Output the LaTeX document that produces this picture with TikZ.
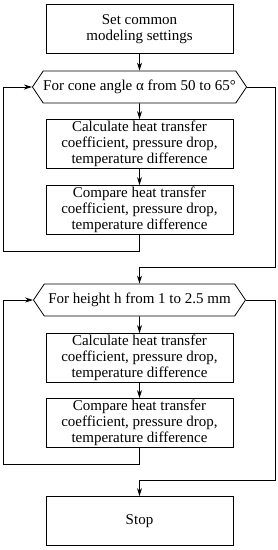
\documentclass[tikz,border=0pt]{standalone}
\usepackage{fontspec}
\setmainfont{Liberation Serif}
\usetikzlibrary{arrows.meta, shapes.symbols}

\tikzset{
	stepbox/.style = {draw, line width = 0.8pt, minimum width = 187pt, minimum height = 49pt,
		align = center, inner sep = 1pt, font = \fontsize{15}{16}\selectfont},
	loopbox/.style = {draw, line width = 0.8pt, signal, signal to = west and east,
		signal pointer angle = 112, minimum width = 212pt, minimum height = 32pt,
		inner xsep = 0pt, font = \fontsize{15}{16}\selectfont}
}

\begin{document}
\begin{tikzpicture}[> = {Stealth[length = 8pt, width = 5pt]}, x = 1pt, y = 1pt, line width = 0.8pt]

	\useasboundingbox (0, 0) rectangle (278, -550);

	% Settings
	
	\node [stepbox] (set) at (139.5, -29) {Set common\\modeling settings};

	% First loop: cone angle

	\node [loopbox] (angle) at (139.5, -87) {For cone angle α from 50 to 65°};
	\node [stepbox] (calca) at (139.5, -144) {Calculate heat transfer\\coefficient, pressure drop,\\temperature difference};
	\node [stepbox] (compa) at (139.5, -210) {Compare heat transfer\\coefficient, pressure drop,\\temperature difference};

	% Second loop: height

	\node [loopbox] (height) at (139.5, -300) {For height h from 1 to 2.5 mm};
	\node [stepbox] (calch) at (139.5, -358) {Calculate heat transfer\\coefficient, pressure drop,\\temperature difference};
	\node [stepbox] (comph) at (139.5, -423) {Compare heat transfer\\coefficient, pressure drop,\\temperature difference};

	\node [stepbox] (stop) at (139.5, -521) {Stop};

	% Corners of the loop lines

	\coordinate (backa) at (3.5, -251);
	\coordinate (exita) at (275, -267);
	\coordinate (backh) at (3.5, -464);
	\coordinate (exith) at (275, -480);

	% Flow

	\draw [->] (set) -- (angle);
	\draw [->] (angle) -- (calca);
	\draw [->] (calca) -- (compa);
	\draw [->] (compa.south) |- (backa) |- (angle.west);
	\draw [->] (angle.east) -| (exita) -| (height.north);

	\draw [->] (height) -- (calch);
	\draw [->] (calch) -- (comph);
	\draw [->] (comph.south) |- (backh) |- (height.west);
	\draw [->] (height.east) -| (exith) -| (stop.north);

\end{tikzpicture}
\end{document}
